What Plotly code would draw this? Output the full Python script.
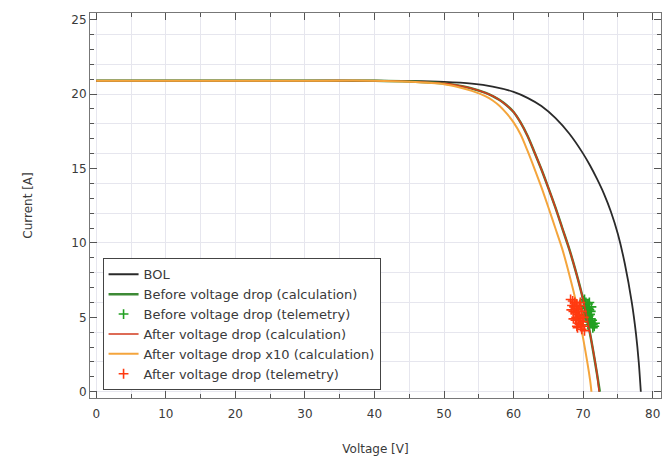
import plotly.graph_objects as go

# ---- data ----
bol_v = [0, 10, 20, 30, 40, 45, 50, 54, 57, 60, 62, 64, 66, 68, 70, 71, 72, 73, 74, 75, 76, 77, 77.6, 78.0, 78.3]
bol_i = [20.9, 20.9, 20.9, 20.9, 20.9, 20.88, 20.82, 20.7, 20.5, 20.15, 19.75, 19.2, 18.4, 17.35, 16.0, 15.2, 14.3, 13.3, 12.1, 10.6, 8.6, 6.0, 3.9, 2.0, 0.0]

before_v = [0, 10, 20, 30, 40, 45, 50, 52, 54, 56, 57, 58, 59, 60, 61, 62, 63, 64, 65, 66, 67, 68, 69, 70, 71, 72, 72.4]
before_i = [20.9, 20.9, 20.9, 20.9, 20.9, 20.85, 20.72, 20.58, 20.38, 20.08, 19.87, 19.6, 19.25, 18.8, 18.1, 17.2, 16.1, 14.95, 13.7, 12.4, 11.0, 9.6, 8.0, 6.2, 3.9, 1.2, 0.0]

after_v = [0, 10, 20, 30, 40, 45, 50, 52, 54, 56, 57, 58, 59, 60, 61, 62, 63, 64, 65, 66, 67, 68, 69, 70, 71, 72, 72.3]
after_i = [20.9, 20.9, 20.9, 20.9, 20.9, 20.85, 20.72, 20.58, 20.38, 20.08, 19.87, 19.6, 19.25, 18.8, 18.1, 17.2, 16.1, 14.95, 13.7, 12.4, 11.0, 9.6, 8.0, 6.2, 3.9, 1.2, 0.0]

after10_v = [0, 10, 20, 30, 40, 45, 50, 52, 54, 56, 57, 58, 59, 60, 61, 62, 63, 64, 65, 66, 67, 68, 69, 70, 71, 71.2]
after10_i = [20.9, 20.9, 20.9, 20.9, 20.9, 20.83, 20.67, 20.48, 20.22, 19.85, 19.57, 19.2, 18.7, 18.1, 17.3, 16.2, 15.0, 13.75, 12.4, 11.0, 9.6, 7.9, 6.0, 3.6, 0.8, 0.0]

tel_before_v = [70.1, 70.4, 70.7, 70.3, 70.5, 70.9, 70.2, 70.6, 71.0, 70.8, 70.4, 71.1, 71.3, 70.7, 70.5,
                71.2, 70.9, 71.4, 71.6, 71.0, 70.3, 70.8, 70.6, 71.1, 71.4, 70.7, 70.2, 70.9, 71.7, 71.2]
tel_before_i = [6.1, 6.0, 5.9, 5.7, 5.6, 5.5, 5.4, 5.3, 5.2, 5.1, 5.0, 4.9, 4.8, 4.9, 5.2,
                4.6, 4.7, 4.5, 4.4, 4.7, 5.8, 5.6, 5.0, 5.4, 4.3, 4.5, 6.2, 6.0, 4.6, 5.7]

tel_after_v = [68.2, 68.5, 68.8, 69.1, 68.4, 68.7, 69.0, 69.3, 68.6, 68.9, 69.2, 69.5, 69.0, 69.3, 69.6,
               69.9, 69.4, 69.7, 70.0, 69.2, 69.8, 70.2, 68.3, 68.9, 69.5, 70.1, 69.6, 68.6, 69.1, 69.8]
tel_after_i = [6.2, 6.1, 6.0, 5.9, 5.8, 5.7, 5.6, 5.5, 5.4, 5.3, 5.2, 5.1, 5.0, 4.9, 4.8,
               4.7, 4.6, 4.5, 4.4, 4.3, 4.2, 4.1, 5.5, 4.8, 5.8, 5.0, 6.0, 4.9, 4.4, 5.4]

x_ticks = [0, 10, 20, 30, 40, 50, 60, 70, 80]
y_ticks = [0, 5, 10, 15, 20, 25]

# ---- figure ----
fig = go.Figure()
fig.add_trace(go.Scatter(x=bol_v, y=bol_i, mode="lines", name="BOL",
                         line=dict(color="#2a2a2a", width=1.8, shape="spline", smoothing=0.8)))
fig.add_trace(go.Scatter(x=before_v, y=before_i, mode="lines", name="Before voltage drop (calculation)",
                         line=dict(color="#3d8a35", width=2.5, shape="spline", smoothing=0.8)))
fig.add_trace(go.Scatter(x=tel_before_v, y=tel_before_i, mode="markers", name="Before voltage drop (telemetry)",
                         marker=dict(symbol="cross-thin", size=7, line=dict(color="#22a022", width=1.6))))
fig.add_trace(go.Scatter(x=after_v, y=after_i, mode="lines", name="After voltage drop (calculation)",
                         line=dict(color="#d23a1e", width=1.6, shape="spline", smoothing=0.8)))
fig.add_trace(go.Scatter(x=after10_v, y=after10_i, mode="lines", name="After voltage drop x10 (calculation)",
                         line=dict(color="#f4a53c", width=2, shape="spline", smoothing=0.8)))
fig.add_trace(go.Scatter(x=tel_after_v, y=tel_after_i, mode="markers", name="After voltage drop (telemetry)",
                         marker=dict(symbol="cross-thin", size=7, line=dict(color="#ff3a10", width=1.6))))

# extra axis only for the horizontal grid every 2 A
fig.add_trace(go.Scatter(x=[None], y=[None], yaxis="y2", showlegend=False, hoverinfo="skip"))

font_color = "#3a3a3a"
fam = "DejaVu Sans, Liberation Sans, sans-serif"
fig.update_layout(
    width=664, height=463,
    margin=dict(l=90, r=3, t=13, b=65),
    paper_bgcolor="white", plot_bgcolor="white",
    font=dict(family=fam, size=12, color=font_color),
    showlegend=True,
    legend=dict(x=0.022, y=0.02, xanchor="left", yanchor="bottom",
                bgcolor="white", bordercolor="#444444", borderwidth=1,
                font=dict(family=fam, size=13, color=font_color), tracegroupgap=0,
                itemwidth=30),
    xaxis=dict(range=[-0.9, 81.2], tickvals=x_ticks, ticks="inside", ticklen=7, tickwidth=1,
               tickcolor="#555555", showline=True, linecolor="#777777", linewidth=1, mirror="ticks",
               showgrid=True, gridcolor="#e6e6ee", gridwidth=1, zeroline=False, automargin=False,
               ticklabelstandoff=5,
               minor=dict(dtick=5, tick0=0, ticks="inside", ticklen=4, tickcolor="#555555",
                          showgrid=True, gridcolor="#e6e6ee", gridwidth=1),
               title=dict(text="Voltage [V]", font=dict(family=fam, size=12, color=font_color), standoff=24),
               tickfont=dict(family=fam, size=12, color=font_color)),
    yaxis=dict(range=[-0.42, 25.45], tickvals=y_ticks, ticks="inside", ticklen=7, tickwidth=1,
               tickcolor="#555555", showline=True, linecolor="#777777", linewidth=1, mirror="ticks",
               showgrid=False, zeroline=False, automargin=False,
               minor=dict(dtick=1, tick0=0, ticks="inside", ticklen=4, tickcolor="#555555", showgrid=False),
               title=dict(text="Current [A]", font=dict(family=fam, size=12, color=font_color), standoff=36),
               tickfont=dict(family=fam, size=12, color=font_color)),
    yaxis2=dict(range=[-0.42, 25.45], overlaying="y", dtick=2, tick0=0, showgrid=True,
                gridcolor="#e6e6ee", gridwidth=1, showticklabels=False, ticks="", zeroline=False,
                showline=False, layer="below traces", automargin=False),
)

# remove the default page margin so the 664x463 figure fills the window exactly
fig.write_html("out.html", config={"displayModeBar": False},
               post_script="document.body.style.margin='0px';document.body.style.overflow='hidden';")
